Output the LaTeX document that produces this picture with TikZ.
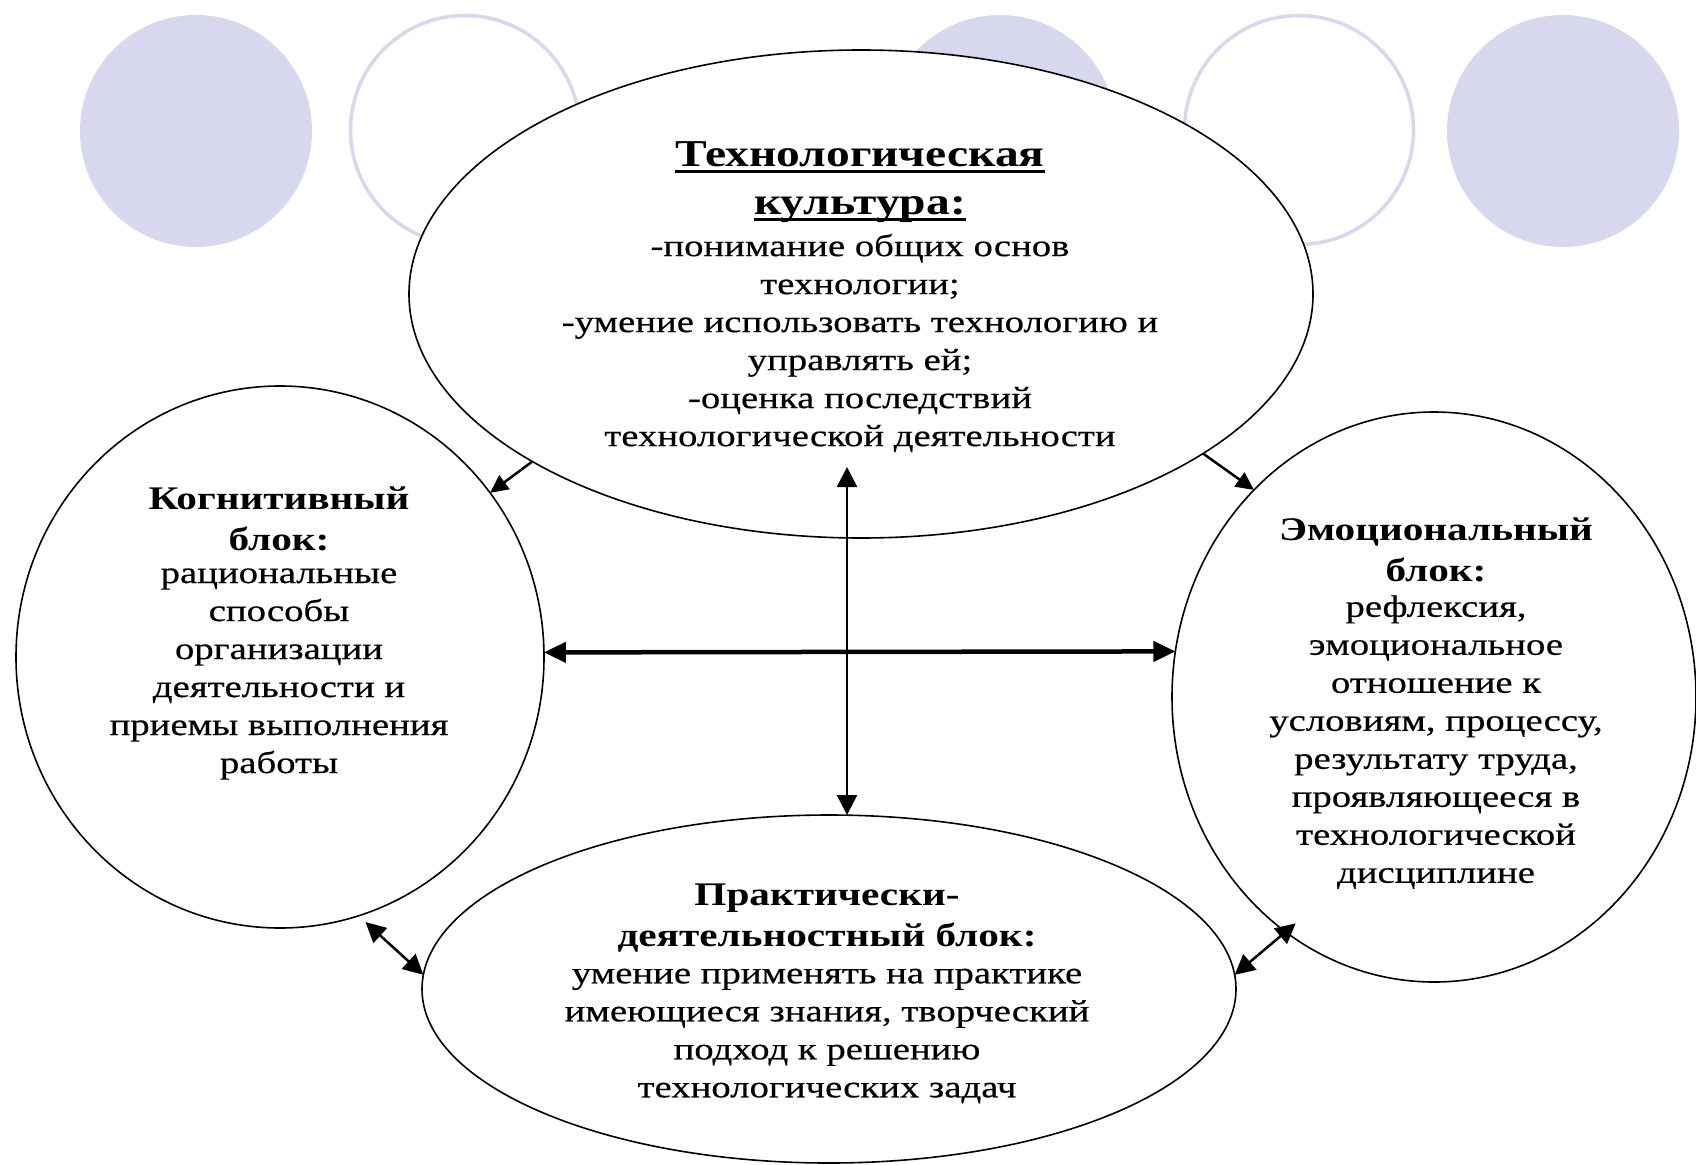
\documentclass[tikz,border=0pt]{standalone}
\usepackage{fontspec}
\setmainfont{Liberation Serif}
\newfontfamily\bodyf[FakeStretch=1.25,FakeBold=0.5]{Liberation Serif}
\newfontfamily\headf[FakeStretch=1.25]{Liberation Serif}
\usetikzlibrary{arrows.meta,shapes.geometric,calc}
\definecolor{lav}{RGB}{215,215,237}
\newcommand\myul[1]{\setbox0\hbox{#1}\rlap{\rule[-7pt]{\wd0}{3pt}}\box0}
\begin{document}
\begin{tikzpicture}[x=1pt,y=-1pt,
  blob/.style={ellipse,draw=black,line width=1.6pt,fill=white,inner sep=0pt,outer sep=0pt},
  decofill/.style={circle,fill=lav,inner sep=0pt,outer sep=0pt,minimum size=232pt},
  decoring/.style={circle,draw=lav,line width=3.5pt,inner sep=0pt,outer sep=0pt,minimum size=229pt},
  body/.style={align=center,inner sep=0pt,font=\bodyf\fontsize{31}{38}\selectfont},
  head/.style={align=center,inner sep=0pt,font=\headf\bfseries\fontsize{33}{41}\selectfont},
  bighead/.style={align=center,inner sep=0pt,font=\headf\bfseries\fontsize{38}{48}\selectfont},
  thinarr/.style={line width=2.5pt,-{Triangle[length=18pt,width=17pt]}},
  dblarr/.style={line width=2.5pt,{Triangle[length=20pt,width=20pt]}-{Triangle[length=20pt,width=20pt]}},
  thickarr/.style={line width=4.5pt,{Triangle[length=22pt,width=20pt]}-{Triangle[length=22pt,width=20pt]}}
]
\useasboundingbox (0,0) rectangle (1696,1164);
\fill[white] (0,0) rectangle (1696,1164);

% decorative circles
\node[decofill] (d1) at (196,131) {};
\node[decoring] (d2) at (465,130) {};
\node[decofill] (d3) at (1000,131) {};
\node[decoring] (d4) at (1299,130) {};
\node[decofill] (d5) at (1563,131) {};

% main blocks
\node[blob,minimum width=904pt,minimum height=488pt] (top) at (861,294) {};
\node[blob,minimum width=528pt,minimum height=542pt] (left) at (280,657) {};
\node[blob,minimum width=524pt,minimum height=570pt] (right) at (1434,697) {};
\node[blob,minimum width=814pt,minimum height=348pt] (bottom) at (829,989) {};

% texts
\node[bighead] (tophead) at (860,182) {\myul{Технологическая}\\ \myul{культура:}};
\node[body] (topbody) at (860,343) {-понимание общих основ\\ технологии;\\ -умение использовать технологию и\\ управлять ей;\\ -оценка последствий\\ технологической деятельности};

\node[head] (lefthead) at (279,519) {Когнитивный\\ блок:};
\node[body] (leftbody) at (279,674) {рациональные\\ способы\\ организации\\ деятельности и\\ приемы выполнения\\ работы};

\node[head] (righthead) at (1436,550) {Эмоциональный\\ блок:};
\node[body] (rightbody) at (1436,742) {рефлексия,\\ эмоциональное\\ отношение к\\ условиям, процессу,\\ результату труда,\\ проявляющееся в\\ технологической\\ дисциплине};

\node[head] (bottomhead) at (827,918) {Практически-\\ деятельностный блок:};
\node[body] (bottombody) at (827,1036) {умение применять на практике\\ имеющиеся знания, творческий\\ подход к решению\\ технологических задач};

% connectors
\coordinate (vtop) at (847,467);
\draw[thinarr] (top.207) -- (left.38);
\draw[thinarr] (top.335) -- (right.131);
\draw[dblarr] (vtop) -- (vtop |- bottom.north);
\draw[thickarr] (left.1) -- (right.170);
\draw[dblarr] ($(left.288)+(2,8)$) -- (bottom.178);
\draw[dblarr] ($(right.240)+(1,-15)$) -- (bottom.2);
\end{tikzpicture}
\end{document}
